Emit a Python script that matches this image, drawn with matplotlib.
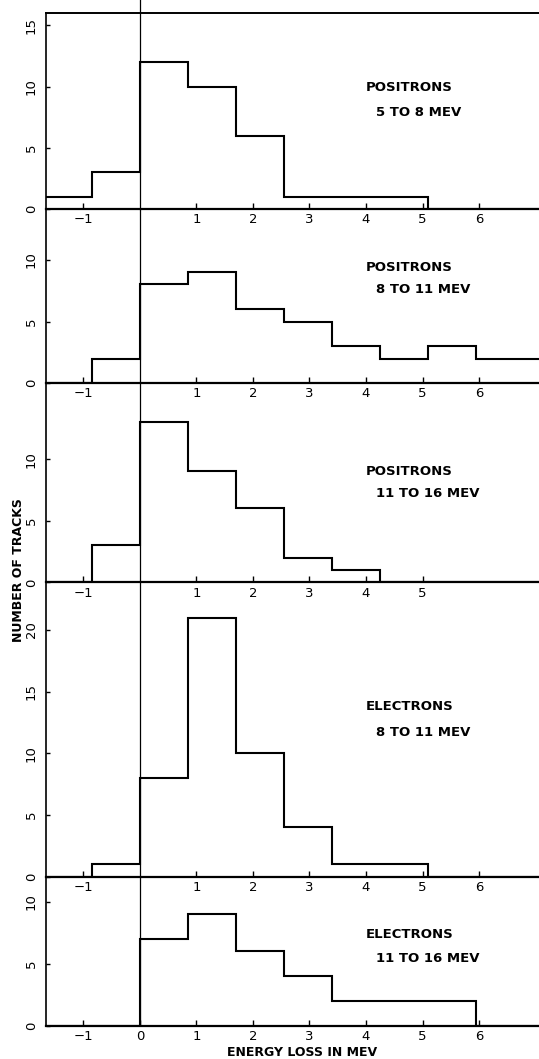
import matplotlib.pyplot as plt
from matplotlib.gridspec import GridSpec

# ---- data ----
bin_edges = [-1.7, -0.85, 0.0, 0.85, 1.7, 2.55, 3.4, 4.25, 5.1, 5.95, 6.8, 7.65]
pos_5_8 = [1, 3, 12, 10, 6, 1, 1, 1, 0, 0, 0]
pos_8_11 = [0, 2, 8, 9, 6, 5, 3, 2, 3, 2, 2]
pos_11_16 = [0, 3, 13, 9, 6, 2, 1, 0, 0, 0, 0]
ele_8_11 = [0, 1, 8, 21, 10, 4, 1, 1, 0, 0, 0]
ele_11_16 = [0, 0, 7, 9, 6, 4, 2, 2, 2, 0, 0]

labels_line1 = ["POSITRONS", "POSITRONS", "POSITRONS", "ELECTRONS", "ELECTRONS"]
labels_line2 = ["5 TO 8 MEV", "8 TO 11 MEV", "11 TO 16 MEV", "8 TO 11 MEV", "11 TO 16 MEV"]
ymax = [16.0, 14.1, 16.15, 23.85, 12.05]
yticks = [[0, 5, 10, 15], [0, 5, 10], [0, 5, 10], [0, 5, 10, 15, 20], [0, 5, 10]]
xticks = [[-1, 1, 2, 3, 4, 5, 6], [-1, 1, 2, 3, 4, 5, 6], [-1, 1, 2, 3, 4, 5],
          [-1, 1, 2, 3, 4, 5, 6], [-1, 0, 1, 2, 3, 4, 5, 6]]
series = [pos_5_8, pos_8_11, pos_11_16, ele_8_11, ele_11_16]
text_y1 = [9.9, 9.35, 9.0, 13.8, 7.4]
text_y2 = [7.9, 7.6, 7.2, 11.7, 5.4]

fig = plt.figure(figsize=(5.39, 10.59), dpi=100)
heights = [196, 174, 199, 294, 149]
gs = GridSpec(5, 1, figure=fig, height_ratios=heights, hspace=0,
              left=46/539, right=1.0, top=1-13/1059, bottom=1-1025.7/1059)

xmin, xmax = -1.66, 7.06
for i in range(5):
    ax = fig.add_subplot(gs[i])
    ax.set_facecolor('none')
    ax.set_zorder(10 - i)
    ax.stairs(series[i], bin_edges, color='black', lw=1.5, baseline=0)
    ax.set_xlim(xmin, xmax)
    ax.set_ylim(0, ymax[i])
    if i == 0:
        ax.plot([0, 0], [0, ymax[i] + 1.1], color='black', lw=0.9, clip_on=False)
    else:
        ax.axvline(0, color='black', lw=0.9)
    for s in ['right']:
        ax.spines[s].set_visible(False)
    if i != 0:
        ax.spines['top'].set_visible(False)
    else:
        ax.spines['top'].set_linewidth(1.4)
    ax.spines['bottom'].set_linewidth(1.6)
    ax.spines['left'].set_linewidth(1.2)
    ax.set_xticks(xticks[i])
    ax.set_xticklabels([("−1" if t == -1 else str(t)) for t in xticks[i]], fontsize=9.5)
    ax.set_yticks(yticks[i])
    ax.set_yticklabels([str(t) for t in yticks[i]], fontsize=9.5, rotation=90, va='center')
    ax.tick_params(axis='x', direction='in', length=4, width=1.0, pad=3)
    ax.tick_params(axis='y', direction='in', length=3, width=1.0, pad=6)
    ax.text(4.0, text_y1[i], labels_line1[i], fontsize=9.5, fontweight='bold', va='center', ha='left')
    ax.text(4.18, text_y2[i], labels_line2[i], fontsize=9.5, fontweight='bold', va='center', ha='left')

fig.text(19/539, 1-570/1059, "NUMBER OF TRACKS", rotation=90, ha='center', va='center',
         fontsize=9, fontweight='bold')
fig.text(302/539, 1-1052/1059, "ENERGY LOSS IN MEV", ha='center', va='center',
         fontsize=9, fontweight='bold')

fig.savefig("out.png", dpi=100, facecolor='white')
